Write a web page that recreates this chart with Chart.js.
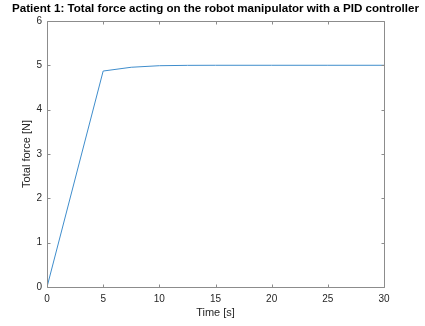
<!DOCTYPE html>
<html>
<head>
<meta charset="utf-8">
<script src="https://cdn.jsdelivr.net/npm/chart.js@4/dist/chart.umd.min.js"></script>
<style>
  html, body { margin: 0; padding: 0; background: #fff; }
  #wrap { width: 425px; height: 326px; }
</style>
</head>
<body>
<div id="wrap"><canvas id="c" width="425" height="326"></canvas></div>
<script>
// Simulated response: total force on the manipulator (PID controller)
const timeS = [0, 5, 7.5, 10, 12.5, 15, 20, 25, 30];
const forceN = [0, 4.87, 4.955, 4.99, 4.998, 5, 5, 5, 5];
const xTicks = [0, 5, 10, 15, 20, 25, 30];
const yTicks = [0, 1, 2, 3, 4, 5, 6];

const FONT = "'Liberation Sans', Helvetica, Arial, sans-serif";
const AXIS_COLOR = '#8c8c8c';
const TEXT_COLOR = '#262626';

// Box around the axes with short inward ticks on all four sides
const boxPlugin = {
  id: 'boxPlugin',
  afterDraw(chart) {
    const { ctx, chartArea: a, scales } = chart;
    const L = Math.round(a.left) + 0.5, R = Math.round(a.right) + 0.5;
    const T = Math.round(a.top) + 0.5, B = Math.round(a.bottom) + 0.5;
    ctx.save();
    ctx.strokeStyle = AXIS_COLOR;
    ctx.lineWidth = 1;
    ctx.beginPath();
    ctx.rect(L, T, R - L, B - T);
    const len = 3;
    scales.x.ticks.forEach(t => {
      const px = Math.round(scales.x.getPixelForValue(t.value)) + 0.5;
      ctx.moveTo(px, B); ctx.lineTo(px, B - len);
      ctx.moveTo(px, T); ctx.lineTo(px, T + len);
    });
    scales.y.ticks.forEach(t => {
      const py = Math.round(scales.y.getPixelForValue(t.value)) + 0.5;
      ctx.moveTo(L, py); ctx.lineTo(L + len, py);
      ctx.moveTo(R, py); ctx.lineTo(R - len, py);
    });
    ctx.stroke();
    ctx.restore();
  }
};

new Chart(document.getElementById('c'), {
  type: 'line',
  data: {
    datasets: [{
      data: timeS.map((t, i) => ({ x: t, y: forceN[i] })),
      borderColor: '#3f8dcc',
      borderWidth: 1,
      pointRadius: 0,
      tension: 0,
      fill: false
    }]
  },
  options: {
    responsive: false,
    animation: false,
    devicePixelRatio: 1,
    layout: { padding: { left: 6, right: 0, top: 0, bottom: 0 } },
    plugins: {
      legend: { display: false },
      tooltip: { enabled: false },
      title: {
        display: true,
        text: 'Patient 1: Total force acting on the robot manipulator with a PID controller',
        color: '#000',
        font: { family: FONT, size: 11.6, weight: 'bold', lineHeight: 1.2 },
        padding: { top: 2, bottom: 5 }
      }
    },
    scales: {
      x: {
        type: 'linear',
        min: 0, max: 30,
        afterBuildTicks(s) { s.ticks = xTicks.map(v => ({ value: v })); },
        afterFit(s) { s.height = 39; },
        grid: { display: false, drawTicks: false },
        border: { display: false },
        ticks: { color: TEXT_COLOR, font: { family: FONT, size: 10 }, padding: 6, maxRotation: 0 },
        title: { display: true, text: 'Time [s]', color: TEXT_COLOR, font: { family: FONT, size: 11 }, padding: { top: 2, bottom: 6 } }
      },
      y: {
        min: 0, max: 6,
        afterBuildTicks(s) { s.ticks = yTicks.map(v => ({ value: v })); },
        afterFit(s) { s.width = 41; },
        grid: { display: false, drawTicks: false },
        border: { display: false },
        ticks: { color: TEXT_COLOR, font: { family: FONT, size: 10 }, padding: 5 },
        title: { display: true, text: 'Total force [N]', color: TEXT_COLOR, font: { family: FONT, size: 11 }, padding: { top: 14, bottom: 0 } }
      },
      // empty right-hand axis that only reserves the margin beside the box
      yRight: {
        position: 'right',
        min: 0, max: 6,
        afterFit(s) { s.width = 41; },
        grid: { display: false, drawTicks: false },
        border: { display: false },
        ticks: { display: false }
      }
    }
  },
  plugins: [boxPlugin]
});
</script>
</body>
</html>
